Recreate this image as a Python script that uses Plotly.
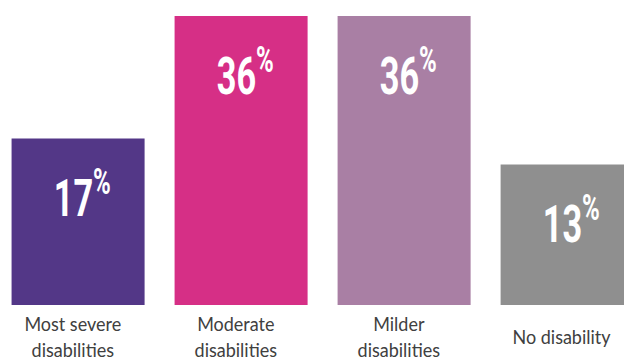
import plotly.graph_objects as go

# Share of people by disability severity
categories = ["Most severe<br>disabilities", "Moderate<br>disabilities",
              "Milder<br>disabilities", "No disability"]
values = [17, 36, 36, 13]
value_labels = ["17", "36", "36", "13"]
colors = ["#533787", "#D62F86", "#A97FA4", "#8F8F8F"]

BASE = -8.8  # bars rise from a common baseline below zero

x_pos = list(range(len(categories)))

fig = go.Figure(
    go.Bar(
        x=x_pos,
        y=[v - BASE for v in values],
        base=BASE,
        width=0.816,
        marker=dict(color=colors, line=dict(width=0)),
        hoverinfo="skip",
    )
)

# value labels inside the bars
for xi, v, lab in zip(x_pos, values, value_labels):
    fig.add_annotation(
        x=xi, y=v, xref="x", yref="y",
        text=f"{lab}<sup>%</sup>",
        showarrow=False, yanchor="middle", xanchor="center",
        xshift=4, yshift=-56,
        font=dict(family="Roboto, sans-serif", size=52, color="white", weight="bold"),
    )

# category labels under the bars
for xi, cat in zip(x_pos, categories):
    fig.add_annotation(
        x=xi, y=0.068, xref="x", yref="paper",
        text=cat, showarrow=False, yanchor="middle", xanchor="center",
        xshift=-5,
        font=dict(family="Lato, sans-serif", size=20, color="#404040"),
    )

fig.update_layout(
    width=624, height=361,
    margin=dict(l=0, r=0, t=0, b=0),
    paper_bgcolor="white", plot_bgcolor="white",
    showlegend=False,
    xaxis=dict(range=[-0.479, 3.349], visible=False, fixedrange=True),
    yaxis=dict(range=[-17.5, 38.5], visible=False, fixedrange=True),
)

# narrow the text horizontally: strongly for the big figures, lightly for the labels
condense = """
var gd = document.getElementById('{plot_id}');
gd.querySelectorAll('g.annotation').forEach(function (g) {
  var i = +g.getAttribute('data-index');
  var t = g.querySelector('text');
  t.style.transformBox = 'fill-box';
  t.style.transformOrigin = 'center';
  t.style.transform = i < 4 ? 'scaleX(0.66)' : 'scaleX(0.9)';
});
"""

fig.write_html("out.html", post_script=condense)
